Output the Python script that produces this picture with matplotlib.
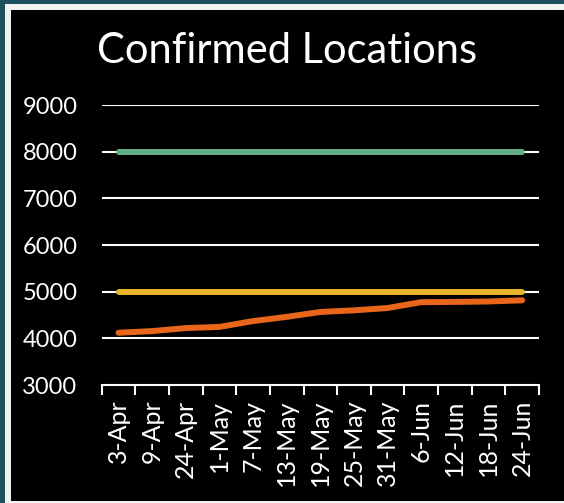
import matplotlib
matplotlib.use("Agg")
import matplotlib.pyplot as plt
from matplotlib.patches import Rectangle

dates = ["3-Apr", "9-Apr", "24-Apr", "1-May", "7-May", "13-May", "19-May",
         "25-May", "31-May", "6-Jun", "12-Jun", "18-Jun", "24-Jun"]
target = [8000] * 13
threshold = [5000] * 13
confirmed = [4120, 4155, 4220, 4245, 4370, 4460, 4565, 4600, 4650,
             4775, 4780, 4790, 4815]
y_ticks = [3000, 4000, 5000, 6000, 7000, 8000, 9000]

W, H = 564, 503
fig = plt.figure(figsize=(W / 100, H / 100), dpi=100)
fig.patch.set_facecolor("#1f4f5e")

# white frame + black panel (figure pixel coords)
fig.patches.append(Rectangle((5 / W, 0), 1, 1 - 4 / H, transform=fig.transFigure,
                             facecolor="#f2f2f2", edgecolor="none", zorder=-2))
fig.patches.append(Rectangle((11 / W, 2 / H), 1, 1 - 12 / H, transform=fig.transFigure,
                             facecolor="black", edgecolor="none", zorder=-1))

plt.rcParams["font.family"] = ["Lato", "DejaVu Sans"]

ax = fig.add_axes([101.7 / W, 1 - 385 / H, (539 - 101.7) / W, (385 - 105) / H])
ax.set_zorder(2)
ax.set_facecolor("black")
x = list(range(len(dates)))

for yv in y_ticks[1:]:
    ax.axhline(yv, color="white", linewidth=1.5, zorder=1)

ax.plot(x, target, color="#63ae8a", linewidth=4.3, solid_capstyle="round", zorder=3)
ax.plot(x, threshold, color="#e8b42a", linewidth=4.3, solid_capstyle="round", zorder=3)
ax.plot(x, confirmed, color="#e8651a", linewidth=4.3, solid_capstyle="round",
        solid_joinstyle="round", zorder=3)

ax.set_xlim(-0.5, len(dates) - 0.5)
ax.set_ylim(3000, 9000)
ax.set_yticks(y_ticks)
ax.tick_params(axis="y", length=0, labelsize=17, labelcolor="white", pad=17.5)

ax.set_xticks(x)
ax.set_xticklabels(dates, rotation=90)
ax.set_xticks([i - 0.5 for i in range(len(dates) + 1)], minor=True)
ax.tick_params(axis="x", which="major", length=0, labelsize=18, labelcolor="white", pad=10.5)
ax.tick_params(axis="x", which="minor", length=7, width=1.5, color="white", direction="out")

for side in ("left", "right", "top"):
    ax.spines[side].set_visible(False)
ax.spines["bottom"].set_color("white")
ax.spines["bottom"].set_linewidth(1.5)

fig.text(287 / W, 1 - 51 / H, "Confirmed Locations", color="white", fontsize=30,
         ha="center", va="center", zorder=3)

fig.savefig("out.png", dpi=100, facecolor=fig.get_facecolor())
